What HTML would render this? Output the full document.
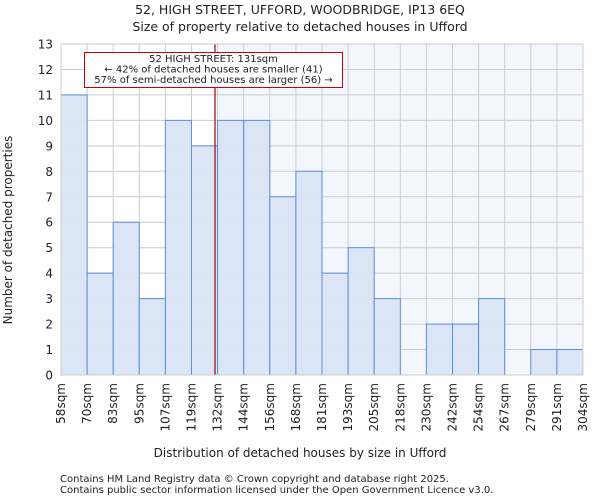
<!DOCTYPE html>
<html><head><meta charset="utf-8"><style>
body{margin:0;background:#fff;font-family:"DejaVu Sans","Liberation Sans",sans-serif;}
svg text{font-family:"DejaVu Sans","Liberation Sans",sans-serif;fill:#222;}
</style></head><body>
<svg id="c" width="600" height="500" xmlns="http://www.w3.org/2000/svg">
<text x="300" y="14" text-anchor="middle" font-size="12.5">52, HIGH STREET, UFFORD, WOODBRIDGE, IP13 6EQ</text>
<text x="300" y="31" text-anchor="middle" font-size="12.5">Size of property relative to detached houses in Ufford</text>
<g id="plot"></g>
<text x="300" y="457" text-anchor="middle" font-size="12">Distribution of detached houses by size in Ufford</text>
<text x="12" y="230" text-anchor="middle" font-size="12" transform="rotate(-90 12 230)">Number of detached properties</text>
<text x="60" y="482" font-size="10">Contains HM Land Registry data © Crown copyright and database right 2025.</text>
<text x="60" y="493" font-size="10">Contains public sector information licensed under the Open Government Licence v3.0.</text>
</svg>
<script>
const categories=["58sqm","70sqm","83sqm","95sqm","107sqm","119sqm","132sqm","144sqm","156sqm","168sqm","181sqm","193sqm","205sqm","218sqm","230sqm","242sqm","254sqm","267sqm","279sqm","291sqm","304sqm"];
const counts=[11,4,6,3,10,9,10,10,7,8,4,5,3,0,2,2,3,0,1,1];
const yTicks=[0,1,2,3,4,5,6,7,8,9,10,11,12,13];
const markerIndex=5.9;
const NS="http://www.w3.org/2000/svg";
const L=61,R=583,T=44,B=375,yMax=13;
const bw=(R-L)/counts.length;
const xs=i=>L+i*bw;
const ys=v=>B-v/yMax*(B-T);
const g=document.getElementById('plot');
function mk(t,a){const e=document.createElementNS(NS,t);for(const k in a)e.setAttribute(k,a[k]);g.appendChild(e);return e;}
const mx=xs(markerIndex);
let e=mk('rect',{x:mx,y:T,width:R-mx,height:B-T,fill:'#f4f6fd'});


yTicks.forEach(v=>{
 let l=mk('line',{x1:L,x2:R,y1:ys(v),y2:ys(v),stroke:'#cccccc','stroke-width':1});
 
 
 let t=mk('text',{x:L-8,y:ys(v)+4.5,'text-anchor':'end','font-size':12});
 t.textContent=v;
 
 
});
categories.forEach((c,i)=>{
 let l=mk('line',{x1:xs(i),x2:xs(i),y1:T,y2:B,stroke:'#cccccc','stroke-width':1});
 
 
 const x=xs(i)+4;
 let t=mk('text',{x:x,y:B+8,'text-anchor':'end','font-size':12,transform:`rotate(-90 ${x} ${B+8})`});
 t.textContent=c;
 
 
});
counts.forEach((v,i)=>{
 if(v<=0)return;
 let r=mk('rect',{x:xs(i),y:ys(v),width:bw,height:B-ys(v),fill:'#dae4f4','fill-opacity':0.95,stroke:'#5b8fd6','stroke-width':1});
 
 
});
e=mk('line',{x1:mx,x2:mx,y1:T,y2:B,stroke:'#aa0000','stroke-width':1.2});


e=mk('rect',{x:L,y:T,width:R-L,height:B-T,fill:'none',stroke:'#cccccc'});


e=mk('rect',{x:84.5,y:52.5,width:258,height:35,fill:'#fff',stroke:'#cc0000','stroke-width':1});


["52 HIGH STREET: 131sqm","← 42% of detached houses are smaller (41)","57% of semi-detached houses are larger (56) →"].forEach((s,k)=>{
 let t=mk('text',{x:213.5,y:62+k*10.5,'text-anchor':'middle','font-size':10});
 t.textContent=s;
 
 
});
</script>
</body></html>
